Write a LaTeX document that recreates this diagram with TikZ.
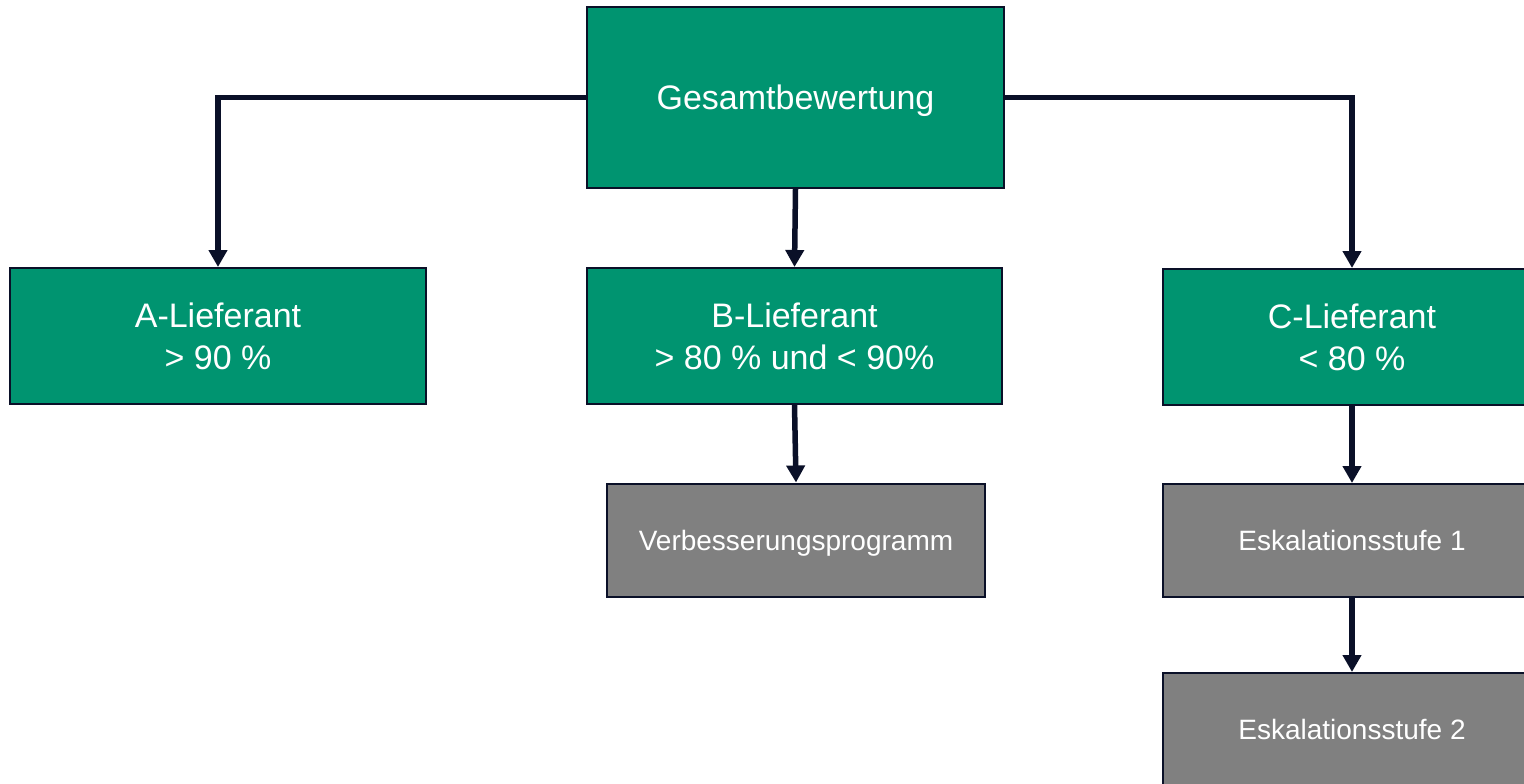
\documentclass[tikz,border=0pt]{standalone}
\usepackage{fontspec}
\setmainfont{Liberation Sans}
\usetikzlibrary{arrows.meta}
\definecolor{boxgreen}{RGB}{0,148,112}
\definecolor{boxgray}{RGB}{128,128,128}
\definecolor{edgenavy}{RGB}{10,16,40}
\tikzset{
  gbox/.style={draw=edgenavy, line width=2pt, fill=boxgreen, text=white, inner sep=0pt,
    align=center, text depth=0pt, font=\fontsize{34}{42}\selectfont},
  graybox/.style={draw=edgenavy, line width=2pt, fill=boxgray, text=white, inner sep=0pt,
    align=center, text depth=0pt, font=\fontsize{28}{34}\selectfont, minimum width=378pt, minimum height=113pt},
  conn/.style={draw=edgenavy, line width=5.5pt, -{Triangle[width=18pt,length=17pt]}}
}
\begin{document}
\begin{tikzpicture}[x=1pt,y=-1pt]
\useasboundingbox (0,0) rectangle (1524,784);
\clip (0,0) rectangle (1524,784);
\node[gbox, minimum width=417pt, minimum height=181pt] (G) at (795.5,97.5) {Gesamtbewertung};
\node[gbox, minimum width=416pt, minimum height=136pt] (A) at (218,336) {A-Lieferant\\> 90 \%};
\node[gbox, minimum width=415pt, minimum height=136pt] (B) at (794.5,336) {B-Lieferant\\> 80 \% und < 90\%};
\node[gbox, minimum width=378pt, minimum height=136pt] (C) at (1352,337) {C-Lieferant\\< 80 \%};
\node[graybox] (V) at (796,540) {Verbesserungsprogramm};
\node[graybox] (E1) at (1352,540.5) {Eskalationsstufe 1};
\node[graybox] (E2) at (1352,729.5) {Eskalationsstufe 2};
\draw[conn] (G.west) -| (A.north);
\draw[conn] (G.east) -| (C.north);
\draw[conn] (G.south) -- (B.north);
\draw[conn] (B.south) -- (V.north);
\draw[conn] (C.south) -- (E1.north);
\draw[conn] (E1.south) -- (E2.north);
\end{tikzpicture}
\end{document}
